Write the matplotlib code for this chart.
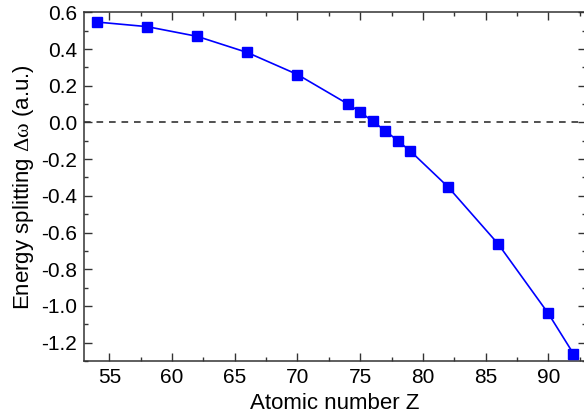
import matplotlib
matplotlib.use("Agg")
import matplotlib.pyplot as plt
from matplotlib.ticker import MultipleLocator, FormatStrFormatter

plt.rcParams['font.family'] = ['Liberation Sans', 'DejaVu Sans']
plt.rcParams['mathtext.fontset'] = 'custom'
plt.rcParams['mathtext.rm'] = 'Liberation Serif'
plt.rcParams['mathtext.it'] = 'Liberation Serif:italic'

# Atomic number and energy splitting
Z = [54, 58, 62, 66, 70, 74, 75, 76, 77, 78, 79, 82, 86, 90, 92]
delta_omega = [0.547, 0.522, 0.469, 0.381, 0.261, 0.101, 0.057, 0.006,
               -0.045, -0.100, -0.156, -0.351, -0.662, -1.041, -1.260]

fig = plt.figure(figsize=(5.84, 4.20), dpi=100)
ax = fig.add_axes([0.1443, 0.1405, 0.859, 0.8302])

ax.axhline(0.0, color='#333333', lw=1.2, ls=(0, (4, 3.5)), zorder=1)
ax.plot(Z, delta_omega, color='#0000ff', lw=1.2, marker='s', ms=6.5,
        mec='#0000ff', mfc='#0000ff', zorder=3)

ax.set_xlim(53, 93)
ax.set_ylim(-1.3, 0.6)
ax.xaxis.set_major_locator(MultipleLocator(5))
ax.xaxis.set_minor_locator(MultipleLocator(2.5))
ax.yaxis.set_major_locator(MultipleLocator(0.2))
ax.yaxis.set_minor_locator(MultipleLocator(0.1))
ax.yaxis.set_major_formatter(FormatStrFormatter('%.1f'))

for s in ax.spines.values():
    s.set_color('#333333')
    s.set_linewidth(1.1)

ax.tick_params(which='both', direction='in', top=True, right=True,
               color='#333333', width=1.0, labelsize=15, pad=5)
ax.tick_params(which='major', length=5.5)
ax.tick_params(which='minor', length=3)

ax.set_xlabel('Atomic number Z', fontsize=16, labelpad=4.5)
ax.set_ylabel(r'Energy splitting $\mathrm{\Delta\omega}$ (a.u.)', fontsize=16, labelpad=4)

fig.savefig('out.png', dpi=100)
